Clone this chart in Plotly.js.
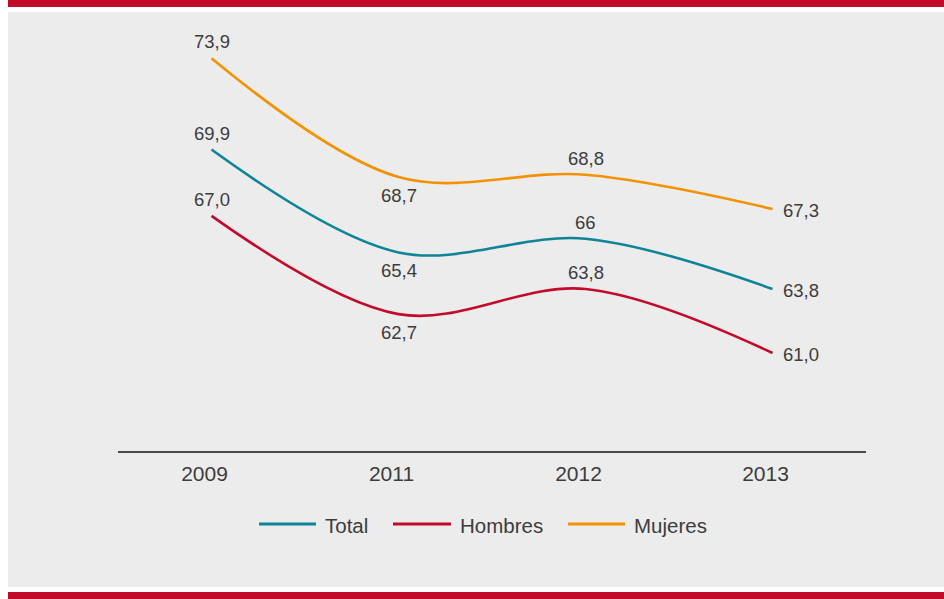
<!DOCTYPE html>
<html>
<head>
<meta charset="utf-8">
<script src="https://cdn.plot.ly/plotly-3.0.1.min.js"></script>
<style>
  html, body { margin: 0; padding: 0; background: #ffffff; width: 944px; height: 599px; overflow: hidden; }
  #topbar { position: absolute; left: 8px; top: 0; width: 936px; height: 7px; background: #c20b2a; }
  #botbar { position: absolute; left: 8px; top: 592px; width: 936px; height: 7px; background: #c20b2a; }
  #chart { position: absolute; left: 8px; top: 12px; width: 936px; height: 575px; }
</style>
</head>
<body>
<div id="topbar"></div>
<div id="chart"></div>
<div id="botbar"></div>
<script>
const years = ["2009", "2011", "2012", "2013"];
const seriesNames = ["Total", "Hombres", "Mujeres"];
const total = [69.9, 65.4, 66.0, 63.8];
const hombres = [67.0, 62.7, 63.8, 61.0];
const mujeres = [73.9, 68.7, 68.8, 67.3];
const totalLabels = ["69,9", "65,4", "66", "63,8"];
const hombresLabels = ["67,0", "62,7", "63,8", "61,0"];
const mujeresLabels = ["73,9", "68,7", "68,8", "67,3"];

const colors = ["#0f8497", "#c20b2a", "#f39200"];
const allValues = [total, hombres, mujeres];
const allLabels = [totalLabels, hombresLabels, mujeresLabels];
const FONT = "Liberation Sans, Arial, sans-serif";
const TEXT_COLOR = "#3c3c3c";

// label placement per category: above, below, above, right
const placement = ["top", "bottom", "top", "right"];

const data = allValues.map((vals, k) => ({
  type: "scatter",
  mode: "lines",
  name: seriesNames[k],
  x: years,
  y: vals,
  line: { color: colors[k], width: 2.6, shape: "spline", smoothing: 1 },
  hoverinfo: "skip",
  showlegend: false
}));

const annotations = [];
allValues.forEach((vals, k) => {
  vals.forEach((v, i) => {
    const p = placement[i];
    const a = {
      x: i, y: v, xref: "x", yref: "y",   // category index of years[i]
      text: allLabels[k][i], showarrow: false,
      font: { family: FONT, size: 18.5, color: TEXT_COLOR },
      borderpad: 0, borderwidth: 0,
      yanchor: "middle"
    };
    if (p === "top") { a.xanchor = "center"; a.yshift = 16.5; }
    else if (p === "bottom") { a.xanchor = "center"; a.yshift = -18.5; }
    else { a.xanchor = "left"; a.xshift = 10; a.yshift = -2; }
    annotations.push(a);
  });
});

// custom legend (paper coordinates; plot area spans x 118..866, y 20..451 of page)
const px = (X) => (X - 118) / 748;
const py = (Y) => (451 - Y) / 431;
const legendLineX = [[259, 316], [393, 451], [568, 625]];
const legendTextX = [325, 460, 634];
const shapes = [];
seriesNames.forEach((n, k) => {
  shapes.push({
    type: "line", xref: "paper", yref: "paper",
    x0: px(legendLineX[k][0]), x1: px(legendLineX[k][1]),
    y0: py(524), y1: py(524),
    line: { color: colors[k], width: 3 }
  });
  annotations.push({
    xref: "paper", yref: "paper", x: px(legendTextX[k]), y: py(525),
    xanchor: "left", yanchor: "middle", showarrow: false,
    borderpad: 0, borderwidth: 0,
    text: n, font: { family: FONT, size: 20.5, color: TEXT_COLOR }
  });
});

const layout = {
  width: 936,
  height: 575,
  margin: { l: 110, r: 78, t: 8, b: 136 },
  paper_bgcolor: "#ececec",
  plot_bgcolor: "#ececec",
  font: { family: FONT, color: TEXT_COLOR },
  showlegend: false,
  xaxis: {
    type: "category",
    categoryarray: years,
    range: [-0.5, 3.5],
    showgrid: false,
    zeroline: false,
    showline: true,
    linecolor: "#4a4a4a",
    linewidth: 2,
    ticks: "",
    tickfont: { family: FONT, size: 21, color: TEXT_COLOR },
    ticklabelstandoff: 3,
    ticklabelshift: -7,
    fixedrange: true
  },
  yaxis: {
    range: [56.71, 75.57],
    showgrid: false,
    zeroline: false,
    showline: false,
    showticklabels: false,
    ticks: "",
    fixedrange: true
  },
  annotations: annotations,
  shapes: shapes
};

Plotly.newPlot("chart", data, layout, { staticPlot: true, displayModeBar: false });
</script>
</body>
</html>
